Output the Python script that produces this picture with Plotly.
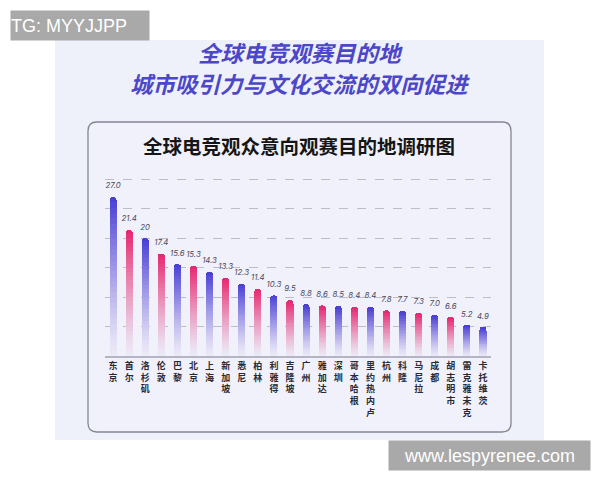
import plotly.graph_objects as go

cities = ['东京', '首尔', '洛杉矶', '伦敦', '巴黎', '北京', '上海', '新加坡', '悉尼', '柏林',
          '利雅得', '吉隆坡', '广州', '雅加达', '深圳', '哥本哈根', '里约热内卢', '杭州', '科隆',
          '马尼拉', '成都', '胡志明市', '雷克雅未克', '卡托维茨']
values = [27.0, 21.4, 20, 17.4, 15.6, 15.3, 14.3, 13.3, 12.3, 11.4, 10.3, 9.5, 8.8, 8.6,
          8.5, 8.4, 8.4, 7.8, 7.7, 7.3, 7.0, 6.6, 5.2, 4.9]
value_labels = ['27.0', '21.4', '20', '17.4', '15.6', '15.3', '14.3', '13.3', '12.3', '11.4',
                '10.3', '9.5', '8.8', '8.6', '8.5', '8.4', '8.4', '7.8', '7.7', '7.3', '7.0',
                '6.6', '5.2', '4.9']
series = ['b', 'p', 'b', 'p', 'b', 'p', 'b', 'p', 'b', 'p', 'b', 'p', 'b', 'p', 'b', 'p',
          'b', 'p', 'b', 'p', 'b', 'p', 'b', 'b']
grid_vals = [5, 10, 15, 20, 25, 30]

W, H = 600, 480
OFF = 8  # page body margin, positions below are measured on the screenshot
top_colors = {'b': (72, 60, 212), 'p': (230, 38, 110)}
fade = (236, 234, 247)
N = 30


def px(x, y):
    return (x - OFF) / W, 1 - (y - OFF) / H


def mix(c1, c2, t):
    return 'rgb({},{},{})'.format(*[round(a + (b - a) * t) for a, b in zip(c1, c2)])


def round_rect(x0, y0, x1, y1, r):
    def p(x, y):
        a, b = px(x, y)
        return '{:.5f},{:.5f}'.format(a, b)
    pts = ['M' + p(x0 + r, y0),
           'L' + p(x1 - r, y0),
           'Q' + p(x1, y0) + ' ' + p(x1, y0 + r),
           'L' + p(x1, y1 - r),
           'Q' + p(x1, y1) + ' ' + p(x1 - r, y1),
           'L' + p(x0 + r, y1),
           'Q' + p(x0, y1) + ' ' + p(x0, y1 - r),
           'L' + p(x0, y0 + r),
           'Q' + p(x0, y0) + ' ' + p(x0 + r, y0)]
    return ' '.join(pts) + ' Z'


fig = go.Figure()

# gradient bars: each bar stacked from thin slices
for i in range(N):
    t = (i + 0.5) / N
    cols = [mix(fade, top_colors[s], t ** 1.25) for s in series]
    fig.add_trace(go.Bar(
        x=cities, y=[v / N for v in values],
        marker=dict(color=cols, line=dict(width=0)),
        hoverinfo='skip', showlegend=False,
    ))

fig.add_trace(go.Scatter(
    x=cities, y=values, mode='markers+text', text=value_labels,
    textposition='top center',
    marker=dict(size=9, opacity=0),
    textfont=dict(size=7.8, color='#4a4a5c', family='Inter'),
    texttemplate='<i>%{text}</i>',
    hoverinfo='skip', showlegend=False,
))

x0, _ = px(105, 0)
x1, _ = px(491, 0)
_, yb = px(0, 356)
_, yt = px(0, 173.5)
bx0, by1 = px(55, 40)
bx1, by0 = px(544, 440)

shapes = [
    dict(type='rect', xref='paper', yref='paper', x0=bx0, x1=bx1, y0=by0, y1=by1,
         fillcolor='#eef0fa', line=dict(width=0), layer='below'),
    dict(type='path', xref='paper', yref='paper', path=round_rect(88, 122, 511, 432, 9),
         fillcolor='#f0f1fb', line=dict(color='#858596', width=1.3), layer='below'),
]


def note(text, x, y, **kw):
    ax, ay = px(x, y)
    return dict(text=text, x=ax, y=ay, xref='paper', yref='paper', showarrow=False, **kw)


annotations = [
    note('<b><i>全球电竞观赛目的地</i></b>', 300, 52, yanchor='middle',
         font=dict(size=22.5, color='#4c47c8', family='Noto Sans CJK SC')),
    note('<b><i>城市吸引力与文化交流的双向促进</i></b>', 300, 83, yanchor='middle',
         font=dict(size=22.5, color='#4c47c8', family='Noto Sans CJK SC')),
    note('<b>全球电竞观众意向观赛目的地调研图</b>', 299, 145, yanchor='middle',
         font=dict(size=19.5, color='#151515', family='Noto Sans CJK SC')),
    note('TG: MYYJJPP', 10, 10, xanchor='left', yanchor='top', width=138, height=29,
         align='left', bgcolor='#a9a9a9', borderpad=0,
         font=dict(size=18, color='white', family='Liberation Sans')),
    note('www.lespyrenee.com', 388, 440, xanchor='left', yanchor='top', width=201, height=29,
         align='center', bgcolor='#a9a9a9', borderpad=0,
         font=dict(size=18, color='white', family='Liberation Sans')),
]

fig.update_layout(
    width=W, height=H,
    margin=dict(l=0, r=0, t=0, b=0),
    paper_bgcolor='white', plot_bgcolor='rgba(0,0,0,0)',
    barmode='stack', bargap=0.56, barcornerradius=4,
    shapes=shapes, annotations=annotations,
    xaxis=dict(
        domain=[x0, x1], type='category', range=[-0.5, len(cities) - 0.5],
        tickvals=cities, ticktext=['<b>' + '<br>'.join(c) + '</b>' for c in cities],
        tickfont=dict(size=9, color='#2a2a35', family='Noto Sans CJK SC'),
        showline=True, linecolor='#b4b4c4', linewidth=2,
        ticks='', showgrid=False, fixedrange=True,
    ),
    yaxis=dict(
        domain=[yb, yt], range=[0, 31],
        tickvals=grid_vals, showticklabels=False,
        showgrid=True, gridcolor='#bcbccb', griddash='dash', gridwidth=1,
        zeroline=False, showline=False,
    ),
)

fig.write_html('out.html')
